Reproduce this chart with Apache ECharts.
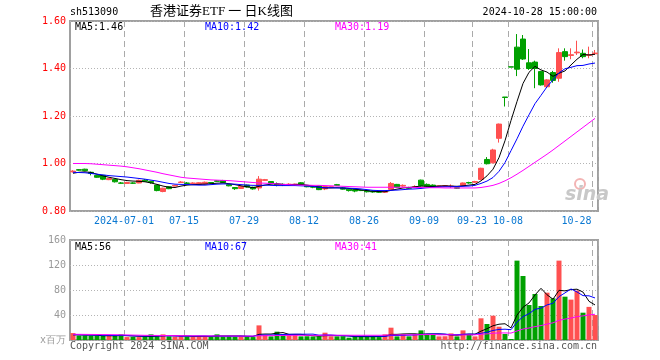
<!DOCTYPE html>
<html><head><meta charset="utf-8">
<script src="https://cdn.jsdelivr.net/npm/echarts@6/dist/echarts.min.js"></script>
<style>html,body{margin:0;padding:0;background:#fff}#c{width:660px;height:360px}</style>
</head><body><div id="c"></div>
<script>
const dates = ['2024-06-18','2024-06-19','2024-06-20','2024-06-21','2024-06-24','2024-06-25','2024-06-26','2024-06-27','2024-06-28',
'2024-07-01','2024-07-02','2024-07-03','2024-07-04','2024-07-05','2024-07-08','2024-07-09','2024-07-10','2024-07-11','2024-07-12',
'2024-07-15','2024-07-16','2024-07-17','2024-07-18','2024-07-19','2024-07-22','2024-07-23','2024-07-24','2024-07-25','2024-07-26',
'2024-07-29','2024-07-30','2024-07-31','2024-08-01','2024-08-02','2024-08-05','2024-08-06','2024-08-07','2024-08-08','2024-08-09',
'2024-08-12','2024-08-13','2024-08-14','2024-08-15','2024-08-16','2024-08-19','2024-08-20','2024-08-21','2024-08-22','2024-08-23',
'2024-08-26','2024-08-27','2024-08-28','2024-08-29','2024-08-30','2024-09-02','2024-09-03','2024-09-04','2024-09-05','2024-09-06',
'2024-09-09','2024-09-10','2024-09-11','2024-09-12','2024-09-13','2024-09-18','2024-09-19','2024-09-20',
'2024-09-23','2024-09-24','2024-09-25','2024-09-26','2024-09-27','2024-09-30',
'2024-10-08','2024-10-09','2024-10-10','2024-10-11','2024-10-14','2024-10-15','2024-10-16','2024-10-17','2024-10-18',
'2024-10-21','2024-10-22','2024-10-23','2024-10-24','2024-10-25','2024-10-28'];

const openP = [.965,.974,.976,.963,.950,.950,.932,.933,.918,
.916,.918,.918,.930,.925,.909,.882,.902,.905,.920,
.918,.915,.912,.914,.920,.927,.928,.911,.899,.895,
.909,.900,.897,.929,.924,.912,.912,.910,.911,.919,
.906,.904,.905,.893,.900,.911,.897,.892,.890,.887,
.886,.884,.881,.879,.891,.912,.905,.898,.900,.930,
.912,.909,.903,.904,.903,.898,.908,.920,
.921,.933,1.017,1.003,1.106,1.280,
1.407,1.490,1.524,1.424,1.427,1.387,1.323,1.383,1.359,
1.471,1.455,1.466,1.464,1.455,1.462];
const closeP = [.968,.972,.970,.958,.942,.934,.937,.923,.917,
.920,.917,.929,.925,.920,.886,.896,.894,.908,.922,
.916,.918,.919,.921,.918,.925,.920,.906,.894,.904,
.901,.893,.934,.932,.917,.910,.910,.913,.913,.912,
.902,.900,.890,.903,.902,.908,.892,.886,.884,.886,
.881,.880,.879,.882,.916,.900,.908,.896,.902,.907,
.905,.904,.906,.907,.905,.896,.918,.918,
.924,.980,.999,1.057,1.166,1.278,
1.406,1.397,1.440,1.400,1.400,1.331,1.352,1.350,1.467,
1.450,1.458,1.469,1.450,1.458,1.465];
const lowP = [.962,.970,.968,.950,.940,.930,.930,.920,.915,
.914,.914,.917,.923,.915,.883,.879,.892,.904,.918,
.913,.913,.910,.912,.916,.923,.918,.904,.889,.893,
.899,.890,.886,.928,.916,.904,.905,.907,.908,.911,
.900,.896,.888,.888,.898,.906,.890,.882,.879,.884,
.878,.877,.876,.876,.889,.897,.902,.893,.898,.903,
.903,.902,.900,.902,.897,.893,.905,.915,
.918,.930,.996,1.000,1.088,1.240,
1.406,1.368,1.436,1.394,1.317,1.328,1.318,1.340,1.344,
1.433,1.439,1.457,1.443,1.443,1.457];
const highP = [.972,.976,.978,.966,.952,.952,.938,.935,.922,
.923,.921,.932,.934,.927,.910,.898,.904,.910,.926,
.922,.921,.921,.924,.922,.930,.931,.913,.901,.906,
.911,.902,.947,.935,.926,.920,.916,.917,.915,.922,
.908,.906,.906,.905,.904,.914,.900,.894,.893,.889,
.888,.886,.884,.884,.922,.914,.912,.902,.908,.932,
.916,.912,.908,.909,.912,.899,.920,.923,
.927,.982,1.027,1.062,1.168,1.280,
1.407,1.545,1.541,1.482,1.433,1.390,1.355,1.390,1.485,
1.485,1.485,1.517,1.480,1.492,1.478];

const volume = [11.1,6.9,7.2,6.6,6.9,6.5,7.0,6.8,9.0,
4.7,4.9,4.7,5.8,9.0,6.0,9.0,5.8,5.6,6.0,
5.8,5.5,6.1,5.7,5.9,9.0,5.8,6.2,5.6,5.9,
5.7,4.7,23.4,8.0,5.8,13.3,9.0,9.0,8.0,5.8,
6.0,5.6,5.9,11.7,5.8,5.7,6.0,3.7,5.8,6.0,
5.6,5.9,4.7,9.0,19.7,5.8,9.0,5.9,9.0,15.4,
9.0,9.0,5.8,6.0,10.6,5.8,15.4,9.0,
5.8,34.7,25.6,38.9,21.3,9.6,
1.6,127,102.4,56,73.6,54.4,75.7,66.7,127,
69.3,64.6,79,43.7,53,40];

const ma5 = [.959,.963,.965,.962,.955,.948,.942,.937,.932,
.928,.926,.925,.923,.918,.912,.905,.900,.899,.905,
.909,.911,.912,.913,.915,.917,.918,.915,.911,.906,
.902,.898,.904,.909,.913,.915,.912,.911,.912,.912,
.909,.905,.900,.897,.897,.898,.897,.895,.892,.889,
.886,.883,.882,.881,.887,.892,.897,.899,.902,.905,
.904,.903,.905,.906,.905,.904,.906,.909,
.912,.927,.948,.976,1.025,1.096,
1.181,1.261,1.337,1.384,1.409,1.394,1.385,1.367,1.380,
1.390,1.415,1.439,1.459,1.457,1.460];
const ma10 = [.963,.962,.961,.958,.955,.952,.949,.947,.945,
.943,.940,.937,.934,.930,.926,.921,.916,.913,.912,
.912,.910,.909,.909,.911,.913,.914,.914,.913,.911,
.909,.908,.908,.909,.908,.907,.907,.907,.907,.906,
.905,.904,.900,.898,.898,.897,.897,.896,.895,.893,
.890,.887,.886,.886,.887,.888,.890,.892,.893,.895,
.898,.900,.901,.902,.902,.903,.904,.905,
.908,.916,.926,.941,.967,1.004,
1.054,1.104,1.157,1.205,1.252,1.287,1.323,1.352,1.382,
1.399,1.405,1.412,1.413,1.419,1.423];
const ma30 = [1.000,1.000,1.000,.999,.997,.995,.993,.991,.989,
.986,.982,.978,.973,.968,.963,.957,.952,.947,.942,
.939,.937,.935,.933,.931,.930,.929,.928,.926,.924,
.922,.920,.918,.917,.916,.914,.912,.911,.910,.909,
.909,.908,.908,.907,.906,.905,.904,.903,.902,.901,
.900,.900,.900,.900,.900,.900,.900,.900,.899,.899,
.898,.898,.898,.897,.897,.897,.897,.897,
.897,.899,.903,.908,.916,.927,
.940,.955,.971,.988,1.005,1.022,1.039,1.057,1.076,
1.095,1.114,1.133,1.152,1.171,1.190];

const vma5 = [8.5,8.2,8.0,7.8,7.74,6.82,6.84,6.76,7.24,
6.8,6.48,6.02,5.82,5.82,6.08,6.9,7.12,7.08,6.48,
6.44,5.74,5.8,5.82,5.8,6.44,6.5,6.52,6.5,6.5,
5.84,5.62,9.06,9.54,9.52,11.04,11.9,9.02,9.02,9.02,
7.56,6.88,6.26,7.0,7.0,6.94,7.02,6.58,5.4,5.44,
5.42,5.4,5.6,6.24,8.98,9.02,9.64,9.88,9.88,9.02,
9.66,9.66,9.64,9.04,8.08,7.44,8.72,9.36,
9.32,14.14,18.1,22.8,25.26,26.02,
19.4,39.7,52.4,59.3,72.1,82.7,72.4,65.3,79.5,
78.6,80.7,81.3,76.7,61.9,56.1];
const vma10 = [8.5,8.4,8.2,8.0,7.9,7.6,7.5,7.3,7.5,
7.27,6.65,6.43,6.29,6.53,6.44,6.69,6.57,6.45,6.15,
6.26,6.32,6.46,6.45,6.14,6.44,6.12,6.16,6.16,6.15,
6.14,6.06,7.79,8.02,8.01,8.44,8.76,9.04,9.28,9.27,
9.3,9.39,7.64,8.01,8.01,7.25,6.95,6.42,6.2,6.22,
6.18,6.21,6.09,5.82,7.21,7.22,7.52,7.74,8.06,9.0,
9.34,9.65,9.76,9.46,8.55,8.55,9.19,9.5,
9.18,10.7,12.4,15.3,16.9,17.3,
16.5,28.6,37.4,42.2,49.1,51.0,56.1,58.8,69.4,
75.4,81.7,76.9,71.0,70.7,67.3];
const vma30 = [9.2,9.1,9.0,8.9,8.8,8.7,8.6,8.5,8.3,
8.1,7.9,7.7,7.5,7.4,7.3,7.2,7.1,7.0,6.9,
6.8,6.7,6.6,6.5,6.5,6.5,6.4,6.4,6.4,6.3,
6.3,6.3,6.8,6.9,6.9,7.2,7.3,7.4,7.5,7.5,
7.5,7.5,7.5,7.7,7.7,7.7,7.7,7.6,7.6,7.6,
7.6,7.6,7.6,7.7,8.1,8.1,8.2,8.2,8.3,8.6,
8.7,8.8,8.3,8.3,8.4,7.9,8.1,8.2,
8.3,9.2,9.8,10.9,11.3,11.3,
11.1,14.4,17.6,19.2,21.4,23.1,25.4,27.5,31.5,
33.5,35.1,37.4,38.6,40.1,41.2];

const tickDates = ['2024-07-01','2024-07-15','2024-07-29','2024-08-12','2024-08-26','2024-09-09','2024-09-23','2024-10-08','2024-10-28'];
const tickLabels = ['2024-07-01','07-15','07-29','08-12','08-26','09-09','09-23','10-08','10-28'];
const priceMin = 0.8, priceMax = 1.6, priceStep = 0.2;
const volMin = 0, volMax = 160, volStep = 40;
const volUnit = 'x百万';
const symbolCode = 'sh513090';
const chartTitle = '香港证券ETF 一 日K线图';
const stamp = '2024-10-28 15:00:00';

const UP = '#ff5050', DOWN = '#00a000';
const MONO = '"DejaVu Sans Mono", "Liberation Mono", monospace';
const last = a => a[a.length - 1];
const isTick = (i, v) => tickDates.indexOf(v) >= 0;

const chart = echarts.init(document.getElementById('c'), null, {renderer: 'canvas'});
const vSplit = {show: true, interval: isTick, lineStyle: {color: '#aaaaaa', type: [6, 4], width: 1}};
const hSplit = {show: true, lineStyle: {color: '#b4b4b4', type: [1, 2], width: 1}};

chart.setOption({
  animation: false,
  backgroundColor: '#fff',
  grid: [
    {left: 70, right: 62, top: 21, height: 190, show: true, borderColor: '#a0a0a0', borderWidth: 2, containLabel: false, outerBoundsMode: 'none'},
    {left: 70, right: 62, top: 240, height: 100, show: true, borderColor: '#a0a0a0', borderWidth: 2, containLabel: false, outerBoundsMode: 'none'}
  ],
  xAxis: [
    {type: 'category', gridIndex: 0, data: dates, boundaryGap: true,
     axisLine: {show: false}, axisTick: {show: false},
     axisLabel: {interval: isTick, color: '#0a78d2', fontFamily: MONO, fontSize: 10, margin: 5, padding: [0, 6, 0, 0],
       formatter: v => { const k = tickDates.indexOf(v); return k === tickDates.length - 1 ? '{e|' + tickLabels[k] + '}' : tickLabels[k]; },
       rich: {e: {color: '#0a78d2', fontFamily: MONO, fontSize: 10, padding: [0, 31, 0, 0]}}},
     splitLine: vSplit},
    {type: 'category', gridIndex: 1, data: dates, boundaryGap: true,
     axisLine: {show: false}, axisTick: {show: false}, axisLabel: {show: false}, splitLine: vSplit}
  ],
  yAxis: [
    {type: 'value', gridIndex: 0, min: priceMin, max: priceMax, interval: priceStep, scale: true,
     axisLine: {show: false}, axisTick: {show: false},
     axisLabel: {color: '#ff0000', fontFamily: MONO, fontSize: 10, margin: 4, formatter: v => v.toFixed(2)},
     splitLine: hSplit},
    {type: 'value', gridIndex: 1, min: volMin, max: volMax, interval: volStep,
     axisLine: {show: false}, axisTick: {show: false},
     axisLabel: {color: '#999999', fontFamily: MONO, fontSize: 10, margin: 4, formatter: v => v === 0 ? volUnit : String(v)},
     splitLine: hSplit}
  ],
  series: [
    {type: 'candlestick', xAxisIndex: 0, yAxisIndex: 0, barWidth: 5,
     data: dates.map((d, i) => [openP[i], closeP[i], lowP[i], highP[i]]),
     itemStyle: {color: UP, color0: DOWN, borderColor: UP, borderColor0: DOWN, borderWidth: 1}},
    {type: 'line', xAxisIndex: 0, yAxisIndex: 0, data: ma5, symbol: 'none', lineStyle: {color: '#000', width: 1}, silent: true},
    {type: 'line', xAxisIndex: 0, yAxisIndex: 0, data: ma10, symbol: 'none', lineStyle: {color: '#0000ff', width: 1}, silent: true},
    {type: 'line', xAxisIndex: 0, yAxisIndex: 0, data: ma30, symbol: 'none', lineStyle: {color: '#ff00ff', width: 1}, silent: true},
    {type: 'bar', xAxisIndex: 1, yAxisIndex: 1, barWidth: 5,
     data: volume.map((v, i) => ({value: v, itemStyle: {color: closeP[i] >= openP[i] ? UP : DOWN}}))},
    {type: 'line', xAxisIndex: 1, yAxisIndex: 1, data: vma5, symbol: 'none', lineStyle: {color: '#000', width: 1}, silent: true},
    {type: 'line', xAxisIndex: 1, yAxisIndex: 1, data: vma10, symbol: 'none', lineStyle: {color: '#0000ff', width: 1}, silent: true},
    {type: 'line', xAxisIndex: 1, yAxisIndex: 1, data: vma30, symbol: 'none', lineStyle: {color: '#ff00ff', width: 1}, silent: true}
  ],
  graphic: [
    {type: 'text', left: 70, top: 7, z: 100, style: {text: symbolCode, font: '10px ' + MONO, fill: '#000'}},
    {type: 'text', left: 150, top: 5, z: 100, style: {text: chartTitle, font: '13px "Liberation Serif", "Noto Sans CJK SC"', fill: '#000'}},
    {type: 'text', right: 63, top: 7, z: 100, style: {text: stamp, font: '10px ' + MONO, fill: '#000'}},
    {type: 'text', left: 75, top: 22, z: 100, style: {text: 'MA5:' + last(ma5).toFixed(2), font: '10px ' + MONO, fill: '#000'}},
    {type: 'text', left: 205, top: 22, z: 100, style: {text: 'MA10:' + last(ma10).toFixed(2), font: '10px ' + MONO, fill: '#0000ff'}},
    {type: 'text', left: 335, top: 22, z: 100, style: {text: 'MA30:' + last(ma30).toFixed(2), font: '10px ' + MONO, fill: '#ff00ff'}},
    {type: 'text', left: 75, top: 242, z: 100, style: {text: 'MA5:' + Math.round(last(vma5)), font: '10px ' + MONO, fill: '#000'}},
    {type: 'text', left: 205, top: 242, z: 100, style: {text: 'MA10:' + Math.round(last(vma10)), font: '10px ' + MONO, fill: '#0000ff'}},
    {type: 'text', left: 335, top: 242, z: 100, style: {text: 'MA30:' + Math.round(last(vma30)), font: '10px ' + MONO, fill: '#ff00ff'}},
    {type: 'text', left: 70, top: 341, z: 100, style: {text: 'Copyright 2024 SINA.COM', font: '10px ' + MONO, fill: '#555'}},
    {type: 'text', right: 63, top: 341, z: 100, style: {text: 'http://finance.sina.com.cn', font: '10px ' + MONO, fill: '#555'}},
    {type: 'circle', z: 1, shape: {cx: 580, cy: 184, r: 5}, style: {fill: 'none', stroke: '#f3b4b4', lineWidth: 2}},
    {type: 'text', left: 565, top: 186, z: 1, style: {text: 'sina', font: 'italic bold 19px "DejaVu Sans"', fill: '#c8c8c8'}}
  ]
});
</script></body></html>
